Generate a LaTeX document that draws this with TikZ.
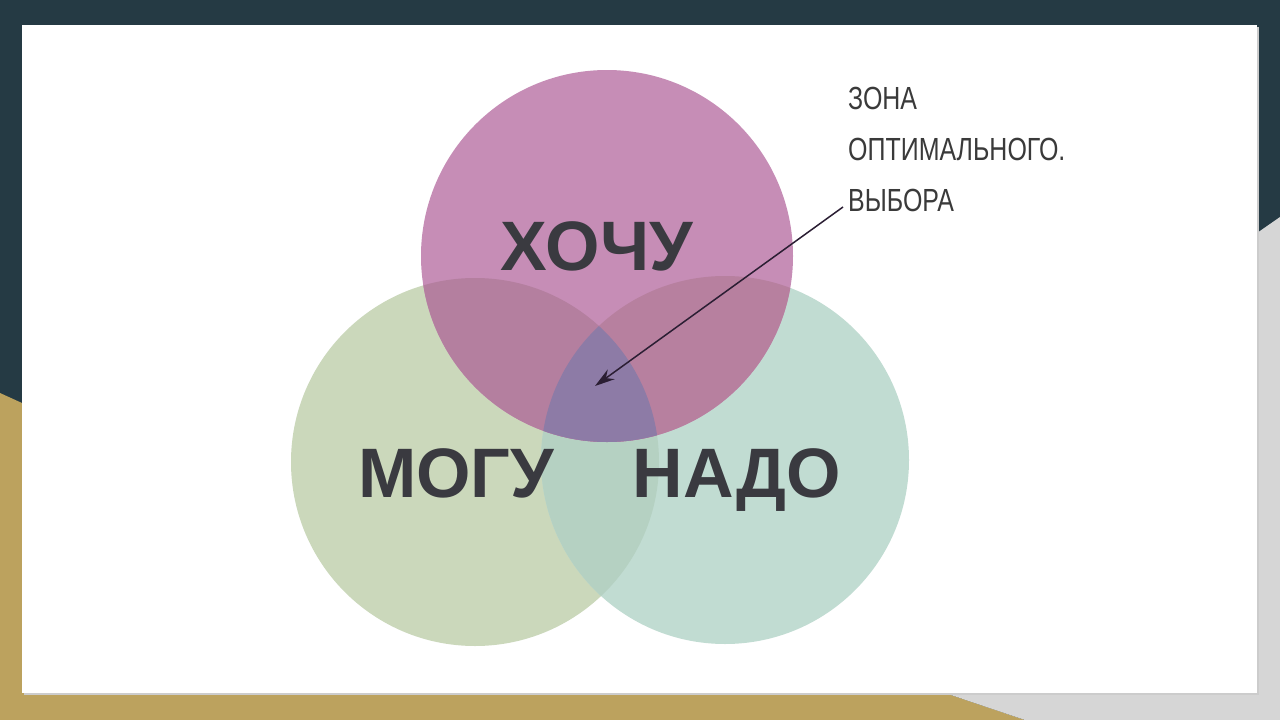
\documentclass[tikz,border=0pt]{standalone}
\usepackage{fontspec}
\setmainfont{Liberation Sans}
\newfontfamily\notefont[FakeStretch=0.78]{Liberation Sans}
\usetikzlibrary{arrows.meta}
\definecolor{bgdark}{HTML}{253A44}
\definecolor{bggold}{HTML}{BCA25E}
\definecolor{bggray}{HTML}{D6D6D6}
\definecolor{wantcol}{HTML}{C68DB6}
\definecolor{cancol}{HTML}{CBD8BB}
\definecolor{mustcol}{HTML}{C1DCD2}
\definecolor{wantcan}{HTML}{B47F9F}
\definecolor{wantmust}{HTML}{B7809F}
\definecolor{canmust}{HTML}{B5D1C2}
\definecolor{allcol}{HTML}{8D7BA6}
\definecolor{wordgray}{HTML}{3A3A40}
\definecolor{notegray}{HTML}{3A3A3A}
\definecolor{pointcol}{HTML}{2B1E33}
\tikzset{
	word/.style={font=\fontsize{70}{70}\selectfont\bfseries,text=wordgray,anchor=base,inner sep=0pt},
	note/.style={font=\notefont\fontsize{32}{51}\selectfont,text=notegray,align=left,anchor=north west,inner sep=0pt},
	pointer/.style={draw=pointcol,line width=1.5pt,-{Stealth[length=20pt,width=12pt]}}
}
\begin{document}
\begin{tikzpicture}[x=1pt,y=-1pt]
				\fill[bgdark] (0,0) rectangle (1280,720);
				\fill[bggold] (0,393) -- (22,403) -- (22,693) -- (945,693) -- (1025,720) -- (0,720) -- cycle;
				\fill[bggray] (1280,217) -- (1257,233) -- (1257,693) -- (945,693) -- (1025,720) -- (1280,720) -- cycle;
				\fill[black!20] (24,27) rectangle (1259,695);
				\fill[white] (22,25) rectangle (1257,693);
				\coordinate(want) at (607,256);
				\coordinate(can) at (475,462);
				\coordinate(must) at (725,460);
				\fill[cancol] (can) circle[radius=184pt];
				\fill[mustcol] (must) circle[radius=184pt];
				\begin{scope}
					\clip (can) circle[radius=184pt];
					\fill[canmust] (must) circle[radius=184pt];
				\end{scope}
				\fill[wantcol] (want) circle[radius=186pt];
				\begin{scope}
					\clip (want) circle[radius=186pt];
					\fill[wantcan] (can) circle[radius=184pt];
					\fill[wantmust] (must) circle[radius=184pt];
					\clip (can) circle[radius=184pt];
					\fill[allcol] (must) circle[radius=184pt];
				\end{scope}
				\node[word](hochu) at (597,270){ХОЧУ};
				\node[word](mogu) at (456,497){МОГУ};
				\node[word](nado) at (737,497){НАДО};
				\node[note](zone) at (848,87){ЗОНА\\ОПТИМАЛЬНОГО.\\ВЫБОРА};
				\coordinate(tail) at (843,207);
				\coordinate(best) at (595,386);
				\draw[pointer](tail) to (best);
\end{tikzpicture}
\end{document}
